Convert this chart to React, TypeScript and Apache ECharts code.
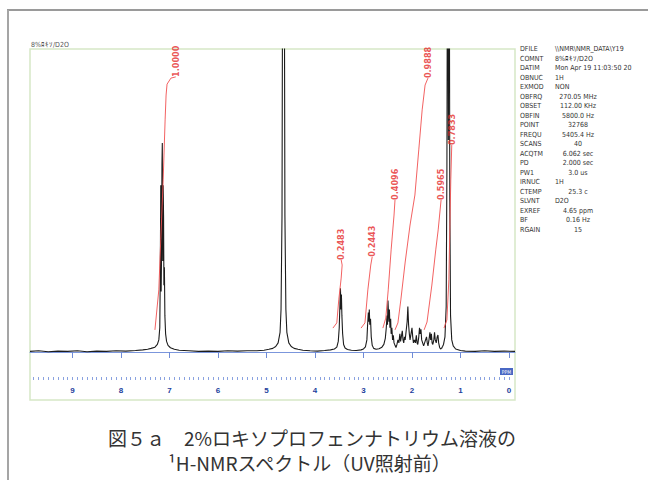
import React, { useEffect, useRef } from "react";
import * as echarts from "echarts";

// ---- axis ranges (ppm, inverted) ----
const X_MIN = -0.124;
const X_MAX = 9.876;
const Y_MIN = -8.25;
const Y_MAX = 100;

const MAJOR_TICKS = [0, 1, 2, 3, 4, 5, 6, 7, 8, 9];

// ---- 1H-NMR spectrum: [ppm, intensity] ----
const SPECTRUM: number[][] = [
  [9.876, 0.2], [9.7, 0.4], [9.5, 0.1], [9.3, 0.3], [9.1, 0.2], [8.9, 0.4], [8.7, 0.1], [8.5, 0.3],
  [8.3, 0.2], [8.1, 0.4], [7.9, 0.3], [7.7, 0.5], [7.55, 0.7], [7.45, 0.9], [7.38, 1.2], [7.3, 1.6],
  [7.25, 2.5], [7.22, 4], [7.2, 8], [7.19, 25], [7.18, 55], [7.172, 20], [7.165, 30], [7.155, 62],
  [7.148, 69], [7.14, 30], [7.13, 55], [7.122, 45], [7.115, 22], [7.105, 28], [7.095, 12], [7.08, 6],
  [7.06, 3.5], [7.03, 2.2], [6.98, 1.4], [6.9, 0.9], [6.8, 0.6], [6.6, 0.4],
  [6.4, 0.2], [6.2, 0.3], [6.0, 0.2], [5.8, 0.4], [5.6, 0.3], [5.4, 0.4], [5.2, 0.4], [5.05, 0.6],
  [4.95, 0.9], [4.87, 1.2], [4.81, 1.8], [4.76, 3], [4.72, 6.5], [4.7, 14], [4.68, 45], [4.665, 150],
  [4.65, 220], [4.635, 150], [4.62, 45], [4.6, 14], [4.58, 6.5], [4.54, 3], [4.49, 1.8], [4.43, 1.2],
  [4.35, 0.9], [4.25, 0.6], [4.1, 0.4], [3.95, 0.3], [3.8, 0.5], [3.68, 0.7], [3.6, 1.0], [3.55, 1.6],
  [3.52, 3.5], [3.5, 8], [3.485, 16], [3.475, 21], [3.465, 14], [3.455, 19], [3.445, 12], [3.43, 6],
  [3.41, 2.5], [3.38, 1.3], [3.33, 0.8], [3.25, 0.6], [3.15, 0.5], [3.05, 0.7], [3.0, 1.0], [2.96, 1.7],
  [2.93, 4], [2.915, 9], [2.9, 13], [2.89, 10], [2.88, 14], [2.87, 9], [2.855, 11], [2.84, 5],
  [2.82, 2.2], [2.79, 1.2], [2.74, 0.9], [2.68, 1.1], [2.62, 1.6], [2.58, 2.5], [2.55, 4.5], [2.53, 8],
  [2.515, 12], [2.505, 9], [2.495, 17], [2.485, 13], [2.475, 10], [2.465, 14], [2.455, 8], [2.44, 11],
  [2.43, 6], [2.415, 8], [2.4, 4], [2.385, 5.5], [2.37, 3], [2.35, 2.2], [2.33, 1.5], [2.31, 2.5],
  [2.29, 4], [2.27, 3], [2.25, 6], [2.235, 3.5], [2.22, 5], [2.2, 7], [2.185, 4], [2.17, 3],
  [2.155, 5], [2.14, 4], [2.12, 7], [2.1, 10], [2.085, 15], [2.07, 9], [2.055, 6], [2.04, 4],
  [2.02, 6], [2.0, 8], [1.985, 5], [1.97, 3], [1.95, 4], [1.93, 3], [1.91, 5.5], [1.895, 3],
  [1.88, 2.5], [1.86, 5], [1.845, 8], [1.83, 6], [1.815, 7.5], [1.8, 4], [1.78, 3], [1.76, 2],
  [1.74, 3], [1.72, 4], [1.7, 5], [1.685, 3], [1.67, 2], [1.65, 4], [1.63, 6.5], [1.615, 4],
  [1.6, 6], [1.585, 3], [1.57, 2.5], [1.55, 4], [1.535, 6.5], [1.52, 4], [1.5, 3], [1.48, 5],
  [1.465, 5.6], [1.45, 3], [1.43, 1.5], [1.41, 1], [1.39, 1.2], [1.37, 1.8], [1.35, 2.5], [1.32, 5],
  [1.295, 15], [1.28, 60], [1.265, 170], [1.25, 70], [1.235, 170], [1.22, 50], [1.205, 12], [1.18, 4],
  [1.15, 2], [1.1, 1], [1.0, 0.5], [0.9, 0.3], [0.7, 0.2], [0.5, 0.4], [0.3, 0.2], [0.1, 0.3],
  [-0.124, 0.2],
];

// ---- integral curves: [ppm, height] ----
const INT_AROMATIC = [[7.3, 7.3], [7.22, 20.5], [7.18, 37], [7.13, 56.8], [7.09, 76.6], [7.07, 84.8], [7.05, 88.4], [6.97, 90.4], [6.87, 90.8]];
const INT_METHINE = [[3.63, 7.9], [3.55, 9.6], [3.51, 17.2], [3.46, 24.4], [3.44, 28.7], [3.46, 30.4]];
const INT_BENZYL = [[3.05, 7.9], [2.97, 9.6], [2.91, 20.5], [2.85, 28.7], [2.82, 31.4]];
const INT_RING_A = [[2.6, 7.9], [2.54, 11.2], [2.49, 20.5], [2.43, 33.7], [2.37, 45.2], [2.35, 50.2]];
const INT_RING_B = [[2.35, 7.3], [2.29, 9.6], [2.23, 17.2], [2.14, 29.7], [2.04, 41.9], [1.94, 51.8], [1.86, 66.7], [1.79, 79.9], [1.73, 88.1], [1.67, 90.4]];
const INT_RING_C = [[1.75, 7.3], [1.69, 9.9], [1.59, 22.1], [1.51, 33.7], [1.46, 40.3], [1.4, 50.2]];
const INT_METHYL = [[1.34, 7.9], [1.28, 10.6], [1.24, 23.8], [1.22, 40.3], [1.2, 56.8], [1.18, 68.3]];

const INTEGRALS = [INT_AROMATIC, INT_METHINE, INT_BENZYL, INT_RING_A, INT_RING_B, INT_RING_C, INT_METHYL];
const INTEGRAL_VALUES = ["1.0000", "0.2483", "0.2443", "0.4096", "0.9888", "0.5965", "0.7833"];

// ---- acquisition parameter panel ----
const PARAM_NAMES = ["DFILE", "COMNT", "DATIM", "OBNUC", "EXMOD", "OBFRQ", "OBSET", "OBFIN", "POINT", "FREQU",
  "SCANS", "ACQTM", "PD", "PW1", "IRNUC", "CTEMP", "SLVNT", "EXREF", "BF", "RGAIN"];
const PARAM_VALUES = ["\\\\NMR\\NMR_DATA\\Y19", "8%ﾛｷｿ/D2O", "Mon Apr 19 11:03:50 20", "1H", "NON", "270.05 MHz",
  "112.00 KHz", "5800.0 Hz", "32768", "5405.4 Hz", "40", "6.062 sec", "2.000 sec", "3.0 us", "1H", "25.3 c",
  "D2O", "4.65 ppm", "0.16 Hz", "15"];

const COMMENT = "8%ﾛｷｿ/D2O";
const CAPTION_1 = "図５ａ　2%ロキソプロフェンナトリウム溶液の";
const CAPTION_2 = "¹H-NMRスペクトル（UV照射前）";

const NARROW = "'Liberation Sans Narrow', 'DejaVu Sans Condensed', 'Liberation Sans', sans-serif";
const CJK = "'Noto Sans CJK JP', 'Noto Sans', sans-serif";

function buildOption() {
  const minorTicks: number[] = [];
  for (let i = 0; i <= 98; i++) minorTicks.push(i / 10);

  const integralSeries = INTEGRALS.map((pts) => ({
    type: "line",
    data: pts,
    showSymbol: false,
    symbol: "none",
    lineStyle: { color: "#f05050", width: 0.9 },
    z: 3,
    silent: true,
  }));

  const labelData = INTEGRALS.map((pts, i) => [pts[pts.length - 1][0], pts[pts.length - 1][1], INTEGRAL_VALUES[i]]);

  const paramGraphics: any[] = [];
  PARAM_NAMES.forEach((name, i) => {
    const y = 49 + i * 9.5;
    paramGraphics.push({
      type: "text", x: 520, y,
      style: { text: name, fill: "#333", fontSize: 7, fontFamily: NARROW, align: "left", verticalAlign: "middle" },
    });
    const v = PARAM_VALUES[i];
    const numeric = /^[\d.]+(\s|$)/.test(v);
    paramGraphics.push({
      type: "text", x: numeric ? 578 : 555, y,
      style: { text: v, fill: "#333", fontSize: 7, fontFamily: NARROW, align: numeric ? "center" : "left", verticalAlign: "middle" },
    });
  });

  return {
    animation: false,
    backgroundColor: "#ffffff",
    grid: { left: 30, right: 133, top: 49, bottom: 103, show: false },
    xAxis: [
      {
        type: "value", min: X_MIN, max: X_MAX, inverse: true, position: "bottom",
        axisLine: { show: true, lineStyle: { color: "#7b96dc", width: 1 } },
        axisTick: { show: true, customValues: MAJOR_TICKS, length: 6, lineStyle: { color: "#6f8bd6" } },
        axisLabel: {
          show: true, customValues: MAJOR_TICKS, color: "#23409c", fontSize: 8, fontWeight: "bold",
          fontFamily: "'Liberation Sans', sans-serif", margin: 9,
        },
        splitLine: { show: false },
      },
      {
        type: "value", min: X_MIN, max: X_MAX, inverse: true, position: "bottom",
        axisLine: { show: false },
        axisTick: { show: true, customValues: minorTicks, length: 3, lineStyle: { color: "#8aa2e0" } },
        axisLabel: { show: false },
        splitLine: { show: false },
      },
    ],
    yAxis: { type: "value", min: Y_MIN, max: Y_MAX, show: false },
    series: [
      {
        type: "line",
        data: SPECTRUM,
        showSymbol: false,
        symbol: "none",
        clip: true,
        lineStyle: { color: "#1c1c1c", width: 1.1 },
        z: 2,
        silent: true,
      },
      ...integralSeries,
      {
        type: "scatter",
        data: labelData,
        symbolSize: 0,
        z: 4,
        silent: true,
        label: {
          show: true,
          formatter: (p: any) => p.value[2],
          position: [0, 0],
          rotate: 90,
          align: "left",
          verticalAlign: "middle",
          color: "#e52a2a",
          fontSize: 9,
          fontWeight: "bold",
          fontFamily: NARROW,
        },
      },
    ],
    graphic: [
      { type: "line", shape: { x1: 7, y1: 10, x2: 648, y2: 10 }, style: { stroke: "#9a9a9a", lineWidth: 2 } },
      { type: "line", shape: { x1: 8, y1: 10, x2: 8, y2: 480 }, style: { stroke: "#a5a5a5", lineWidth: 2 } },
      { type: "rect", shape: { x: 30, y: 49, width: 485, height: 351 }, style: { fill: "none", stroke: "#d6e7c6", lineWidth: 1.5 } },
      {
        type: "text", x: 31, y: 45,
        style: { text: COMMENT, fill: "#555", fontSize: 7, fontFamily: NARROW, align: "left", verticalAlign: "middle" },
      },
      { type: "rect", shape: { x: 500, y: 368, width: 13, height: 7 }, style: { fill: "#4a68c4" } },
      {
        type: "text", x: 506.5, y: 371.5,
        style: { text: "PPM", fill: "#fff", fontSize: 5, fontFamily: NARROW, align: "center", verticalAlign: "middle" },
      },
      ...paramGraphics,
      {
        type: "text", x: 108, y: 437,
        style: { text: CAPTION_1, fill: "#333", fontSize: 19, fontFamily: CJK, align: "left", verticalAlign: "middle" },
      },
      {
        type: "text", x: 168, y: 462,
        style: { text: CAPTION_2, fill: "#333", fontSize: 19, fontFamily: CJK, align: "left", verticalAlign: "middle" },
      },
    ],
  };
}

export default function App() {
  const ref = useRef<HTMLDivElement>(null);
  useEffect(() => {
    if (!ref.current) return;
    const chart = echarts.init(ref.current, null, { renderer: "svg" });
    chart.setOption(buildOption() as any);
    return () => chart.dispose();
  }, []);
  return (
    <div
      ref={ref}
      style={{ position: "absolute", left: 0, top: 0, width: 648, height: 480, background: "#fff" }}
    />
  );
}
